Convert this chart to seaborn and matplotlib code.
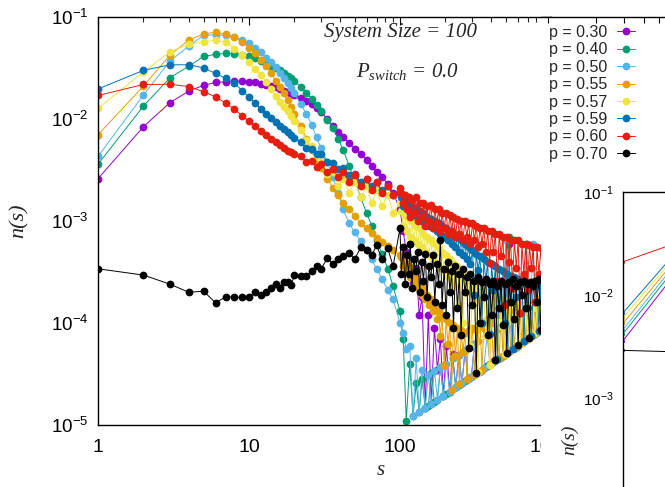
import matplotlib
matplotlib.use("Agg")
import matplotlib.pyplot as plt
import matplotlib.ticker as mticker
import seaborn as sns
import pandas as pd

# ---------------- data ----------------
LABELS = ["p = 0.30", "p = 0.40", "p = 0.50", "p = 0.55", "p = 0.57", "p = 0.59", "p = 0.60", "p = 0.70"]
COLORS = ["#9400d3", "#009e73", "#56b4e9", "#e69f00", "#f0e442", "#0072b2", "#e51e10", "#000000"]

S_HEAD = list(range(1, 21))
S_MID = [22, 24, 26, 28, 30, 33, 36, 39, 42, 46, 50, 55, 60, 65, 70, 76, 83, 90, 100]
# coarse tail grid (p = 0.30, 0.40, 0.50)
S_TAIL = [105, 110, 116, 122, 128, 134, 140, 147, 154, 161,
          169, 177, 185, 194, 203, 213, 223, 234, 245, 257,
          270, 283, 297, 311, 326, 342, 359, 377, 395, 415,
          435, 456, 478, 500, 525, 550, 575, 600, 630, 660,
          690, 720, 760, 800, 850, 900]
# fine tail grid (p = 0.55 ... 0.70)
S_TAIL_F = [102, 105, 108, 111, 114, 117, 120, 123, 127, 131,
            135, 139, 143, 147, 151, 155, 160, 165, 170, 175,
            180, 185, 190, 196, 202, 208, 214, 220, 226, 233,
            240, 247, 254, 261, 269, 277, 285, 293, 302, 311,
            320, 329, 339, 349, 359, 370, 381, 392, 404, 416,
            428, 441, 454, 467, 481, 495, 510, 525, 540, 556,
            572, 589, 606, 624, 642, 661, 680, 700, 720, 741,
            763, 785, 808, 832, 856, 880, 900]

p30_head = [0.0026, 0.0084, 0.0145, 0.0188, 0.0214, 0.0228, 0.0232, 0.0234, 0.0234, 0.0232,
            0.0228, 0.0222, 0.0216, 0.0211, 0.0204, 0.0198, 0.0190, 0.0183, 0.0177, 0.0170]
p30_mid = [0.0160, 0.0150, 0.0140, 0.0128, 0.0118, 0.0100, 0.0086, 0.0074, 0.0066, 0.0058,
           0.0051, 0.0045, 0.0040, 0.0035, 0.0030, 0.0027, 0.0023, 0.0019, 0.0013]
p30_tail = [8e-4, 5e-4, 6e-4, 2.5e-4, 3.5e-4, 1.2e-4, 1.8e-4, 1.47e-5, 1.2e-4, 1.61e-5,
            9e-5, 3.5e-5, 7e-5, 1.94e-5, 6e-5, 2.13e-5, 5e-5, 2.34e-5, 4.9e-5, 2.57e-5,
            5.4e-5, 2.83e-5, 2.97e-5, 6.2e-5, 3.26e-5, 3.42e-5, 3.59e-5, 3.77e-5, 3.95e-5, 4.15e-5,
            4.35e-5, 4.56e-5, 4.78e-5, 5e-5, 6e-4, 5.5e-5, 5.75e-5, 6e-5, 6.3e-5, 6.6e-5,
            6.9e-5, 7.2e-5, 7.6e-5, 8e-5, 8.5e-5, 9e-5]

p40_head = [0.0036, 0.0134, 0.0254, 0.0330, 0.0410, 0.0430, 0.0440, 0.0438, 0.0428, 0.0410,
            0.0393, 0.0370, 0.0350, 0.0333, 0.0316, 0.0300, 0.0280, 0.0266, 0.0250, 0.0236]
p40_mid = [0.0205, 0.0180, 0.0158, 0.0138, 0.0120, 0.0098, 0.0082, 0.0064, 0.0050, 0.0035,
           0.0025, 0.0017, 0.0012, 0.0009, 0.00065, 0.00048, 0.00034, 0.00023, 0.00013]
p40_tail = [7e-5, 1.1e-5, 4e-5, 1.22e-5, 2.56e-5, 1.34e-5, 2.8e-5, 1.47e-5, 1.54e-5, 3.2e-5,
            1.69e-5, 1.77e-5, 3.7e-5, 1.94e-5, 2.03e-5, 2.13e-5, 4.5e-5, 2.34e-5, 2.45e-5, 2.57e-5,
            2.7e-5, 2.83e-5, 2.97e-5, 3.11e-5, 3.26e-5, 3.42e-5, 3.59e-5, 3.77e-5, 3.95e-5, 4.15e-5,
            4.35e-5, 4.56e-5, 4.78e-5, 5e-5, 7e-4, 5.5e-5, 5.75e-5, 6e-5, 6.3e-5, 6.6e-5,
            6e-4, 7.2e-5, 7.6e-5, 8e-5, 8.5e-5, 9e-5]

p50_head = [0.0043, 0.0172, 0.0370, 0.0520, 0.0660, 0.0670, 0.0660, 0.0630, 0.0600, 0.0560,
            0.0500, 0.0450, 0.0400, 0.0360, 0.0320, 0.0280, 0.0250, 0.0224, 0.0200, 0.0178]
p50_mid = [0.0140, 0.0112, 0.0088, 0.0066, 0.0052, 0.0038, 0.0027, 0.0019, 0.0013, 0.00095,
           0.00078, 0.00063, 0.00052, 0.00042, 0.00034, 0.00027, 0.00021, 0.00017, 0.00010]
p50_tail = [8e-5, 5.5e-5, 6e-5, 1.22e-5, 4.5e-5, 1.34e-5, 3.5e-5, 1.47e-5, 3.1e-5, 1.61e-5,
            3.4e-5, 1.77e-5, 3.7e-5, 1.94e-5, 4e-5, 2.13e-5, 4.5e-5, 2.34e-5, 4.9e-5, 2.57e-5,
            5.4e-5, 2.83e-5, 2.97e-5, 6.2e-5, 3.26e-5, 3.42e-5, 3.59e-5, 7.5e-5, 3.95e-5, 4.15e-5,
            4.35e-5, 4.56e-5, 4.78e-5, 6.5e-4, 5.25e-5, 5.5e-5, 5.75e-5, 6e-5, 6.3e-5, 6.6e-5,
            6.9e-5, 7.2e-5, 6e-4, 8e-5, 8.5e-5, 9e-5]

p55_head = [0.0070, 0.0210, 0.0424, 0.0596, 0.0680, 0.0710, 0.0680, 0.0630, 0.0570, 0.0500,
            0.0440, 0.0380, 0.0330, 0.0280, 0.0238, 0.0205, 0.0178, 0.0153, 0.0132, 0.0112]
p55_mid = [0.0085, 0.0064, 0.0050, 0.0040, 0.0033, 0.0026, 0.0021, 0.0018, 0.0015, 0.00132,
           0.00112, 0.00095, 0.00085, 0.00076, 0.00068, 0.00062, 0.00057, 0.00052, 0.00046]
p55_tail = [4.4e-4, 3.6e-4, 4.0e-4, 3.2e-4, 3.6e-4, 2.8e-4, 3.2e-4, 2.5e-4, 2.8e-4, 2.2e-4,
            2.5e-4, 1.9e-4, 2.2e-4, 1.7e-4, 1.9e-4, 1.5e-4, 1.7e-4, 1.3e-4, 1.5e-4, 1.1e-4,
            1.3e-4, 7.4e-5, 1.2e-4, 3.9e-5, 1.1e-4, 6.2e-5, 1.0e-4, 2.2e-5, 9.5e-5, 4.7e-5,
            9.0e-5, 2.5e-5, 8.5e-5, 5.2e-5, 8.0e-5, 2.8e-5, 8.5e-5, 5.9e-5, 9.0e-5, 3.1e-5,
            8.5e-5, 6.6e-5, 1.0e-4, 3.5e-5, 9.0e-5, 7.4e-5, 1.1e-4, 3.9e-5, 1.0e-4, 4.2e-5,
            1.2e-4, 8.8e-5, 4.5e-5, 1.2e-4, 4.8e-5, 9.9e-5, 5.1e-5, 1.3e-4, 5.4e-5, 1.1e-4,
            5.7e-5, 1.4e-4, 6.1e-5, 1.25e-4, 6.4e-5, 1.5e-4, 6.8e-5, 1.4e-4, 7.2e-5, 1.5e-4,
            7.6e-5, 1.6e-4, 8.1e-5, 1.7e-4, 8.6e-5, 1.8e-4, 9.0e-5]

p57_head = [0.0127, 0.0290, 0.0457, 0.0540, 0.0570, 0.0590, 0.0565, 0.0490, 0.0420, 0.0360,
            0.0310, 0.0270, 0.0230, 0.0195, 0.0168, 0.0148, 0.0132, 0.0120, 0.0106, 0.0096]
p57_mid = [0.0078, 0.0062, 0.0054, 0.0042, 0.0038, 0.0029, 0.0030, 0.0022, 0.0026, 0.0019,
           0.0024, 0.0017, 0.0022, 0.0015, 0.0020, 0.0014, 0.0018, 0.0012, 0.0015]
p57_tail = [1.25e-3, 9.0e-4, 1.15e-3, 8.0e-4, 1.05e-3, 7.0e-4, 1.0e-3, 6.5e-4, 9.0e-4, 6.0e-4,
            8.5e-4, 5.5e-4, 7.5e-4, 5.0e-4, 7.0e-4, 4.6e-4, 6.5e-4, 4.2e-4, 6.0e-4, 3.8e-4,
            5.5e-4, 3.5e-4, 5.0e-4, 3.2e-4, 4.6e-4, 2.9e-4, 4.2e-4, 2.6e-4, 3.9e-4, 2.3e-4,
            3.6e-4, 1.5e-4, 3.3e-4, 1.0e-4, 3.0e-4, 2.0e-4, 2.8e-4, 5.9e-5, 2.6e-4, 1.6e-4,
            2.4e-4, 3.3e-5, 2.3e-4, 1.05e-4, 2.1e-4, 7.4e-5, 2.0e-4, 3.9e-5, 1.9e-4, 1.25e-4,
            1.8e-4, 4.4e-5, 1.7e-4, 9.3e-5, 1.7e-4, 5.0e-5, 1.6e-4, 1.05e-4, 1.6e-4, 5.6e-5,
            1.5e-4, 1.2e-4, 1.5e-4, 6.2e-5, 1.5e-4, 1.3e-4, 1.45e-4, 7.0e-5, 1.45e-4, 1.5e-4,
            1.4e-4, 7.9e-5, 1.4e-4, 1.65e-4, 1.4e-4, 8.8e-5, 1.4e-4]

p59_head = [0.0197, 0.0300, 0.0340, 0.0340, 0.0317, 0.0280, 0.0250, 0.0224, 0.0190, 0.0163,
            0.0143, 0.0125, 0.0112, 0.0102, 0.0093, 0.0085, 0.0079, 0.0074, 0.0069, 0.0065]
p59_mid = [0.0060, 0.0052, 0.0051, 0.0045, 0.0045, 0.0038, 0.0037, 0.0032, 0.0033, 0.0028,
           0.0029, 0.0024, 0.0026, 0.0022, 0.0024, 0.0020, 0.0022, 0.0018, 0.0019]
p59_tail = [1.7e-3, 1.4e-3, 1.6e-3, 1.3e-3, 1.5e-3, 1.2e-3, 1.4e-3, 1.15e-3, 1.35e-3, 1.05e-3,
            1.25e-3, 1.0e-3, 1.2e-3, 9.5e-4, 1.1e-3, 9.0e-4, 1.05e-3, 8.5e-4, 1.0e-3, 8.0e-4,
            9.5e-4, 7.5e-4, 9.0e-4, 7.0e-4, 8.5e-4, 6.5e-4, 8.0e-4, 6.0e-4, 7.5e-4, 5.5e-4,
            7.0e-4, 5.0e-4, 6.5e-4, 4.6e-4, 6.0e-4, 4.2e-4, 5.6e-4, 3.8e-4, 5.2e-4, 1.9e-4,
            4.8e-4, 3.3e-4, 4.5e-4, 1.0e-4, 4.2e-4, 2.6e-4, 4.0e-4, 7.8e-5, 3.8e-4, 2.1e-4,
            3.6e-4, 4.4e-5, 3.4e-4, 1.4e-4, 3.2e-4, 9.9e-5, 3.0e-4, 1.6e-4, 2.9e-4, 5.6e-5,
            2.8e-4, 1.8e-4, 2.7e-4, 1.25e-4, 2.6e-4, 6.6e-5, 2.5e-4, 1.4e-4, 2.5e-4, 7.4e-5,
            2.4e-4, 1.6e-4, 2.4e-4, 8.3e-5, 2.3e-4, 1.8e-4, 2.3e-4]

p60_head = [0.0170, 0.0218, 0.0219, 0.0208, 0.0185, 0.0165, 0.0143, 0.0124, 0.0108, 0.0095,
            0.0085, 0.0076, 0.0069, 0.0064, 0.0059, 0.0055, 0.0052, 0.0049, 0.0047, 0.0045]
p60_mid = [0.0043, 0.0038, 0.0039, 0.0034, 0.0036, 0.0030, 0.0032, 0.0027, 0.0030, 0.0024,
           0.0028, 0.0022, 0.0026, 0.0020, 0.0024, 0.0019, 0.0022, 0.0018, 0.0021]
p60_tail = [1.9e-3, 1.5e-3, 1.8e-3, 1.3e-3, 1.7e-3, 1.1e-3, 1.6e-3, 1.2e-3, 1.7e-3, 1.0e-3,
            1.5e-3, 1.1e-3, 1.5e-3, 9.0e-4, 1.4e-3, 1.0e-3, 1.45e-3, 8.5e-4, 1.3e-3, 9.5e-4,
            1.3e-3, 8.0e-4, 1.2e-3, 8.5e-4, 1.2e-3, 7.5e-4, 1.15e-3, 8.0e-4, 1.1e-3, 7.0e-4,
            1.05e-3, 7.5e-4, 1.0e-3, 6.5e-4, 1.0e-3, 7.0e-4, 9.5e-4, 6.0e-4, 9.5e-4, 6.5e-4,
            9.0e-4, 5.5e-4, 8.5e-4, 6.0e-4, 8.5e-4, 5.0e-4, 8.0e-4, 3.9e-4, 8.0e-4, 5.0e-4,
            7.5e-4, 2.6e-4, 7.5e-4, 4.5e-4, 7.0e-4, 1.5e-4, 7.0e-4, 4.0e-4, 6.5e-4, 2.2e-4,
            6.5e-4, 3.5e-4, 6.5e-4, 1.25e-4, 6.0e-4, 3.0e-4, 6.0e-4, 2.1e-4, 5.8e-4, 3.5e-4,
            5.6e-4, 1.6e-4, 5.5e-4, 3.0e-4, 5.4e-4, 2.6e-4, 5.3e-4]

p70_head = [3.4e-4, 2.95e-4, 2.4e-4, 2.0e-4, 2.05e-4, 1.58e-4, 1.8e-4, 1.8e-4, 1.78e-4, 1.78e-4,
            2.0e-4, 1.9e-4, 2.0e-4, 2.2e-4, 2.4e-4, 2.2e-4, 2.5e-4, 2.5e-4, 2.35e-4, 2.95e-4]
p70_mid = [2.9e-4, 2.9e-4, 3.2e-4, 3.6e-4, 3.4e-4, 4.3e-4, 3.8e-4, 4.2e-4, 4.5e-4, 4.9e-4,
           4.2e-4, 5.5e-4, 5.2e-4, 4.6e-4, 5.8e-4, 4.2e-4, 5.4e-4, 3.6e-4, 8.5e-4]
p70_tail = [3.0e-4, 5.5e-4, 2.4e-4, 4.6e-4, 3.0e-4, 6.0e-4, 2.2e-4, 4.2e-4, 3.2e-4, 5.0e-4,
            2.0e-4, 4.0e-4, 2.6e-4, 4.8e-4, 1.8e-4, 3.6e-4, 2.8e-4, 4.6e-4, 1.6e-4, 3.8e-4,
            2.4e-4, 6.5e-4, 1.5e-4, 3.4e-4, 1.2e-4, 4.0e-4, 2.0e-4, 3.2e-4, 9.0e-5, 3.6e-4,
            1.4e-4, 3.0e-4, 7.6e-5, 3.4e-4, 2.0e-4, 2.8e-4, 5.7e-5, 3.0e-4, 1.5e-4, 2.6e-4,
            3.2e-5, 2.8e-4, 1.0e-4, 2.5e-4, 1.8e-4, 2.7e-4, 7.6e-5, 2.4e-4, 1.2e-4, 2.6e-4,
            4.3e-5, 2.3e-4, 1.4e-4, 2.6e-4, 9.6e-5, 2.4e-4, 5.1e-5, 2.5e-4, 1.6e-4, 2.7e-4,
            1.1e-4, 2.3e-4, 6.1e-5, 2.5e-4, 1.9e-4, 2.6e-4, 1.4e-4, 2.4e-4, 7.2e-5, 2.5e-4,
            2.3e-4, 2.6e-4, 1.6e-4, 2.7e-4, 8.6e-5, 2.6e-4, 2.7e-4]

# second (partly visible) panel: first two points of each curve
IN_S = [1, 2]
in_p30 = [0.0036, 0.0186]
in_p40 = [0.0042, 0.0210]
in_p50 = [0.0046, 0.0230]
in_p55 = [0.0053, 0.0250]
in_p57 = [0.0060, 0.0270]
in_p59 = [0.0067, 0.0290]
in_p60 = [0.0210, 0.0330]
in_p70 = [0.0029, 0.0028]

X_TICKS = [1, 10, 100, 1000]
X_TICK_LABELS = ["1", "10", "100", "1000"]

# ---------------- style ----------------
sns.set_theme(style="white")
plt.rcParams['font.family'] = ['Liberation Sans', 'DejaVu Sans']
plt.rcParams['mathtext.fontset'] = 'custom'
plt.rcParams['mathtext.it'] = 'Liberation Serif:italic'
plt.rcParams['mathtext.rm'] = 'Liberation Serif:italic'
plt.rcParams['axes.edgecolor'] = 'black'

W, H = 665, 487
fig = plt.figure(figsize=(W / 100, H / 100), dpi=100)

def frac(x0, y_top, x1, y_bot):
    return [x0 / W, 1 - y_bot / H, (x1 - x0) / W, (y_bot - y_top) / H]

ax = fig.add_axes(frac(98, 17, 551, 425))
ax.set_xscale('log')
ax.set_yscale('log')

heads = [p30_head, p40_head, p50_head, p55_head, p57_head, p59_head, p60_head, p70_head]
mids = [p30_mid, p40_mid, p50_mid, p55_mid, p57_mid, p59_mid, p60_mid, p70_mid]
tails = [p30_tail, p40_tail, p50_tail, p55_tail, p57_tail, p59_tail, p60_tail, p70_tail]
tail_grids = [S_TAIL, S_TAIL, S_TAIL, S_TAIL_F, S_TAIL_F, S_TAIL_F, S_TAIL_F, S_TAIL_F]

for lab, col, h, m, t, g in zip(LABELS, COLORS, heads, mids, tails, tail_grids):
    df = pd.DataFrame({"s": S_HEAD + S_MID + g, "n": h + m + t})
    sns.lineplot(data=df, x="s", y="n", ax=ax, color=col, marker='o', markersize=5.6,
                 markeredgewidth=0, linewidth=0.7, estimator=None, sort=False, label=lab)

handles, labels = ax.get_legend_handles_labels()
if ax.get_legend() is not None:
    ax.get_legend().remove()

ax.set_xlim(1, 1000)
ax.set_ylim(1e-5, 1e-1)
ax.xaxis.set_major_locator(mticker.FixedLocator(X_TICKS))
ax.xaxis.set_major_formatter(mticker.FixedFormatter(X_TICK_LABELS))
ax.xaxis.set_minor_locator(mticker.LogLocator(base=10, subs=range(2, 10)))
ax.xaxis.set_minor_formatter(mticker.NullFormatter())
ax.yaxis.set_major_locator(mticker.LogLocator(base=10, numticks=10))
ax.yaxis.set_minor_locator(mticker.NullLocator())
ax.tick_params(axis='x', which='major', direction='in', length=6, width=0.8, top=True,
               labelsize=14, pad=10, colors='black')
ax.tick_params(axis='x', which='minor', direction='in', length=3.5, width=0.8, top=True)
ax.tick_params(axis='y', which='major', direction='in', length=6, width=0.8, right=True,
               labelsize=13.5, pad=7, colors='black')
for sp in ax.spines.values():
    sp.set_color('black')
    sp.set_linewidth(1.0)

ax.set_xlabel("s", fontfamily="Liberation Serif", fontstyle="italic", fontsize=15)
ax.set_ylabel("n(s)", fontfamily="Liberation Serif", fontstyle="italic", fontsize=16)
ax.xaxis.set_label_coords((381 - 98) / 453, -0.088)
ax.yaxis.set_label_coords(-0.152, 0.5)

ax.text((401 - 98) / 453, 1 - (33 - 17) / 408, "System Size = 100", transform=ax.transAxes,
        ha='center', va='center', fontfamily="Liberation Serif", fontstyle="italic", fontsize=15)
ax.text((408 - 98) / 453, 1 - (72 - 17) / 408, r"$P_{switch}$ = 0.0", transform=ax.transAxes,
        ha='center', va='center', fontfamily="Liberation Serif", fontstyle="italic", fontsize=15)

# ---------------- neighbouring panel (legend area) ----------------
ax_bg = fig.add_axes(frac(541, 17, 665, 487 + 5), zorder=1)
ax_bg.set_facecolor('white')
ax_bg.set_xscale('log')
ax_bg.set_xlim(10 ** (-7 / 159), 10 ** (117 / 159))
ax_bg.set_ylim(0, 1)
for k, sp in ax_bg.spines.items():
    sp.set_visible(k == 'top')
ax_bg.spines['top'].set_color('black')
ax_bg.spines['top'].set_linewidth(1.0)
ax_bg.tick_params(axis='x', which='both', direction='in', top=True, bottom=False,
                  labeltop=False, labelbottom=False, length=4, width=0.8, colors='black')
ax_bg.set_yticks([])

# partially visible inset panel
ax_in = fig.add_axes(frac(623, 192, 923, 604), zorder=2)
ax_in.set_facecolor('white')
ax_in.set_xscale('log')
ax_in.set_yscale('log')
for lab, col, vals in zip(LABELS, COLORS, [in_p30, in_p40, in_p50, in_p55, in_p57, in_p59, in_p60, in_p70]):
    sns.lineplot(x=IN_S, y=vals, ax=ax_in, color=col, marker='o', markersize=2.2,
                 markeredgewidth=0, linewidth=0.7, estimator=None, sort=False, legend=False)
ax_in.set_xlim(1, 10 ** (300 / 190))
ax_in.set_ylim(1e-5, 1e-1)
ax_in.yaxis.set_major_locator(mticker.FixedLocator([1e-3, 1e-2, 1e-1]))
ax_in.yaxis.set_major_formatter(mticker.LogFormatterSciNotation())
ax_in.yaxis.set_minor_locator(mticker.NullLocator())
ax_in.set_xticks([])
ax_in.tick_params(axis='y', which='major', direction='in', length=6, width=0.8,
                  labelsize=11, pad=7, colors='black')
for k, sp in ax_in.spines.items():
    sp.set_color('black')
    sp.set_linewidth(1.0)
    sp.set_visible(k in ('left', 'top'))
ax_in.set_xlabel("")
ax_in.set_ylabel("n(s)", fontfamily="Liberation Serif", fontstyle="italic", fontsize=14)
ax_in.yaxis.set_label_coords(-(623 - 578) / 300, 1 - (440 - 192) / 412)

fig.legend(handles, labels, loc='upper left', bbox_to_anchor=(549 / W, 1 - 25 / H),
           frameon=False, markerfirst=False, fontsize=11.5, handlelength=1.1,
           handletextpad=0.6, labelspacing=0.15, borderaxespad=0, borderpad=0)

fig.savefig("out.png", dpi=100)
